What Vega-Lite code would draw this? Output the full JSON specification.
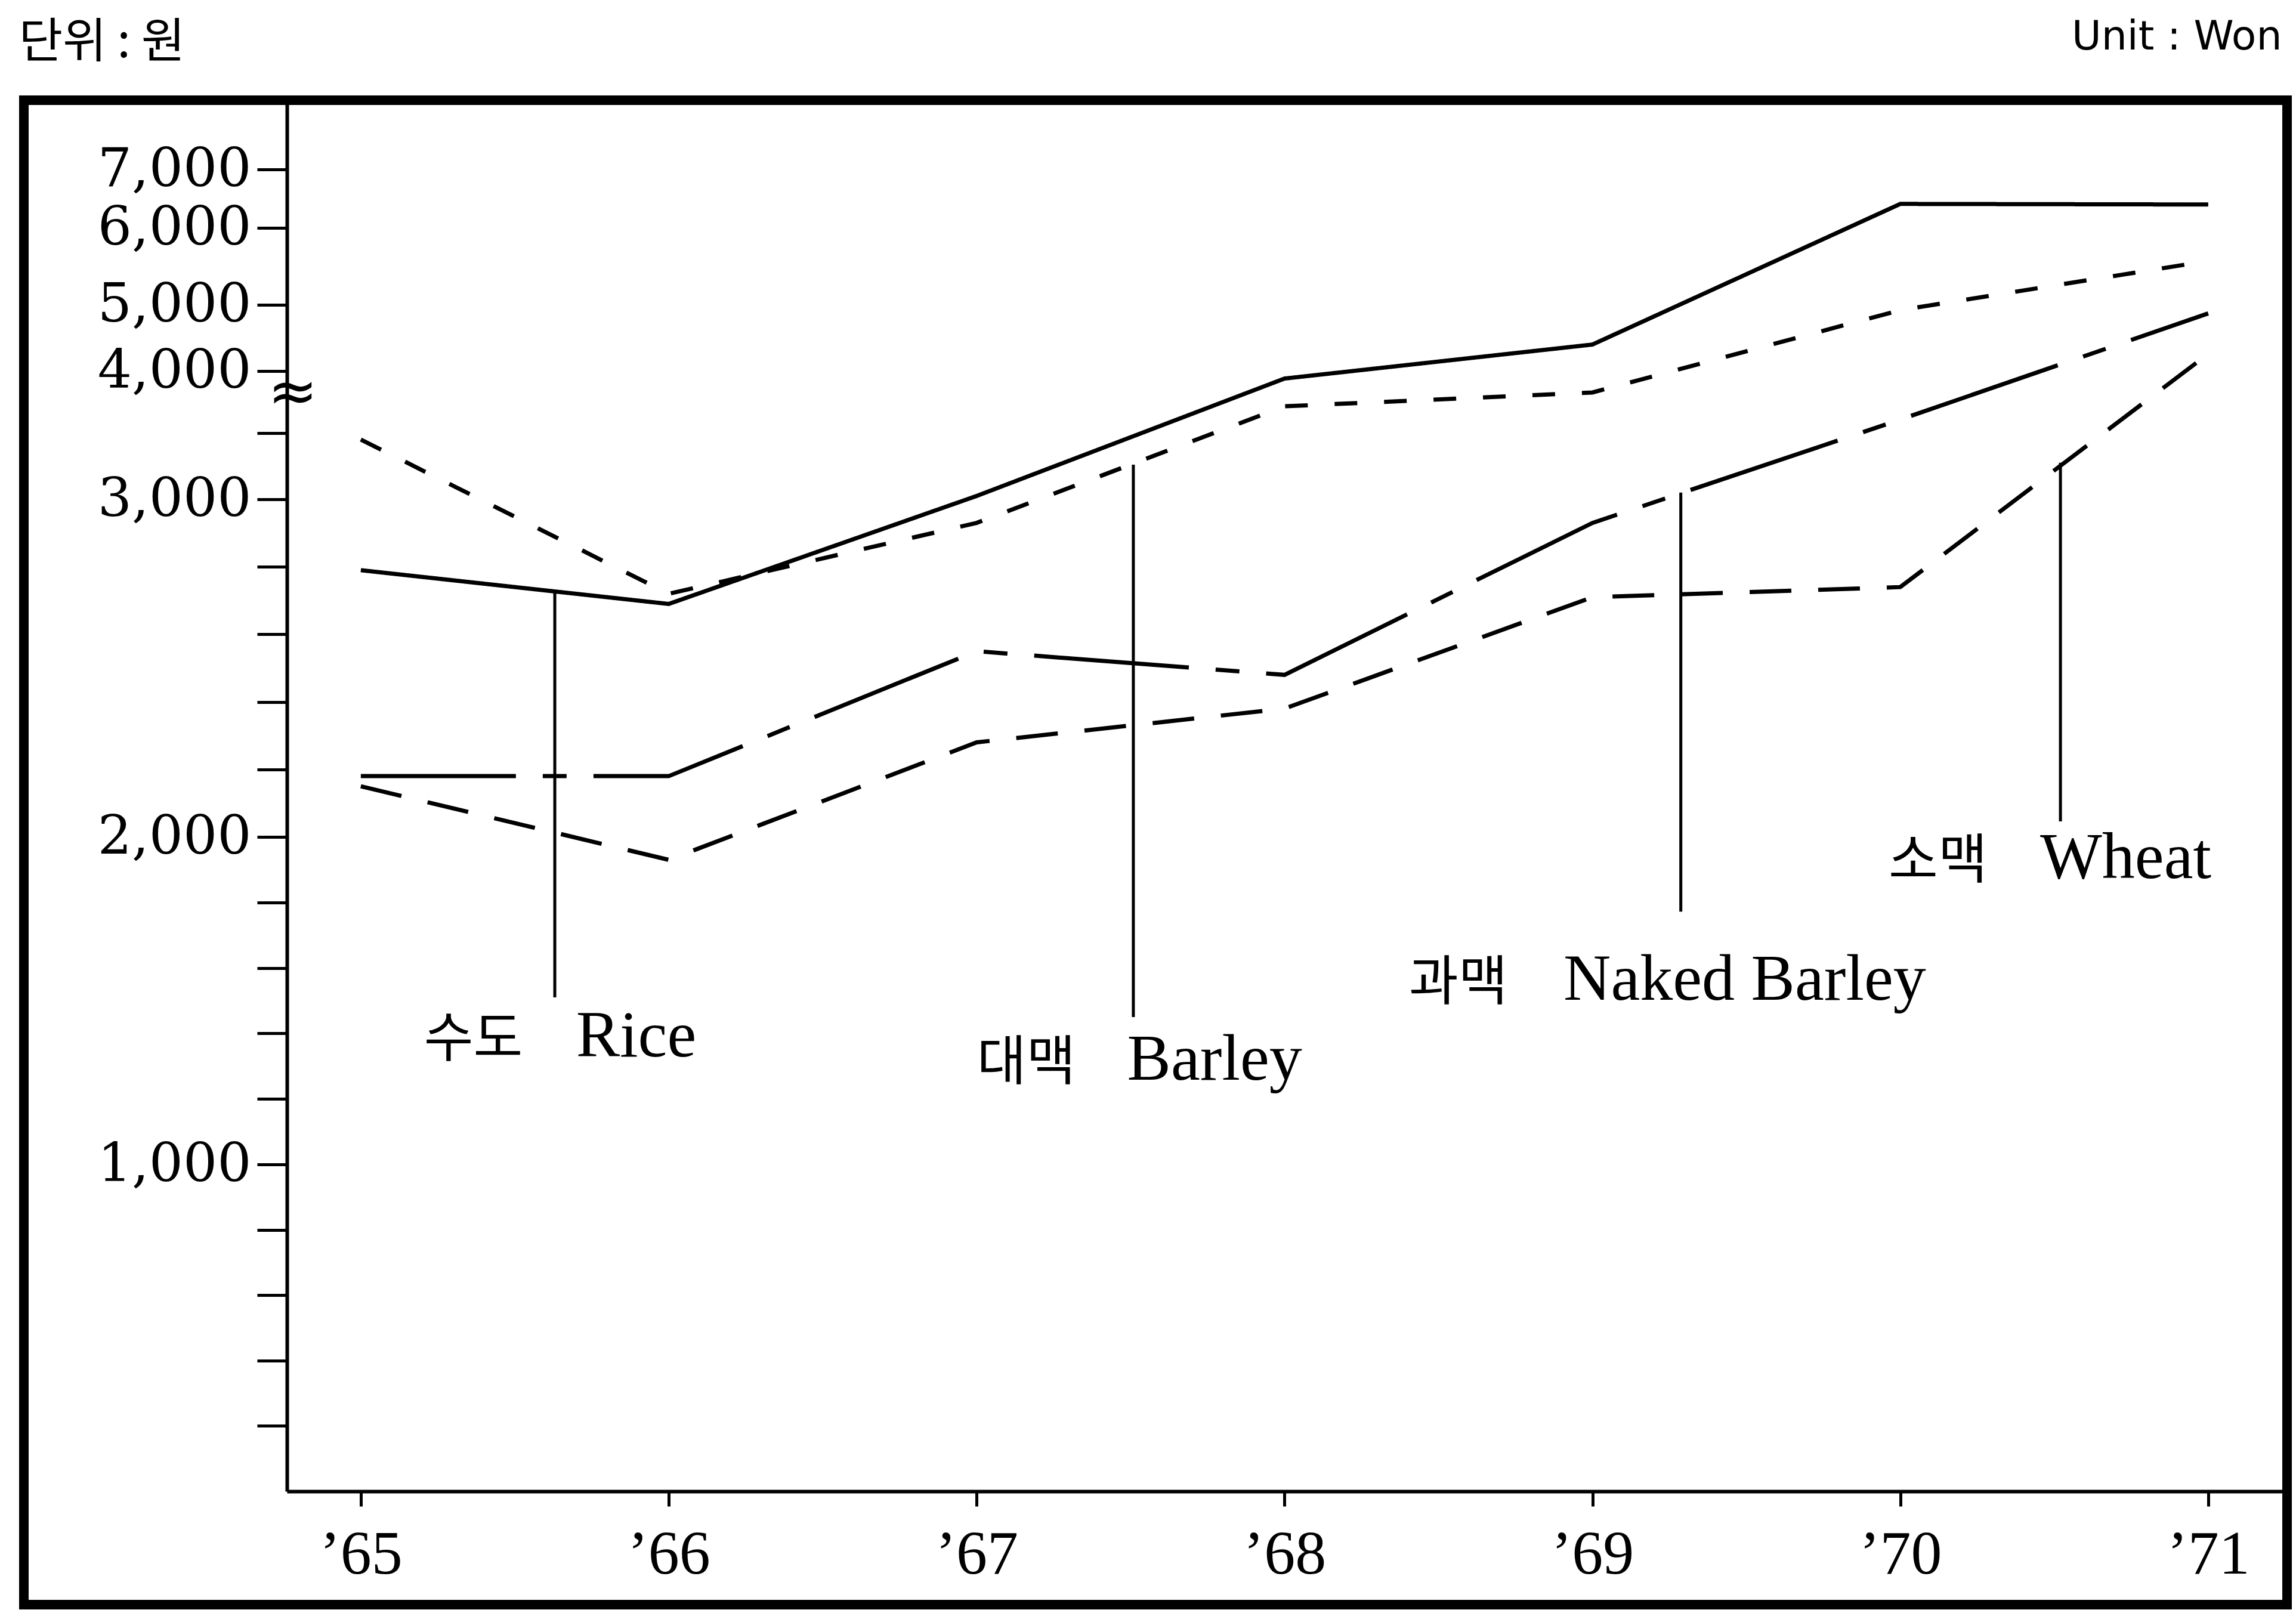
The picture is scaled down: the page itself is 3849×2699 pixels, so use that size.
{
  "$schema": "https://vega.github.io/schema/vega-lite/v6.json",
  "width": 3794,
  "height": 2522,
  "autosize": {"type": "none"},
  "padding": {"left": 40, "top": 168, "right": 15, "bottom": 9},
  "background": "white",
  "config": {"view": {"stroke": "black", "strokeWidth": 16}},
  "datasets": {
    "prices": [
      {"crop": "Rice", "year": 1965, "won": 2790},
      {"crop": "Rice", "year": 1966, "won": 2690},
      {"crop": "Rice", "year": 1967, "won": 3010},
      {"crop": "Rice", "year": 1968, "won": 3910},
      {"crop": "Rice", "year": 1969, "won": 4400},
      {"crop": "Rice", "year": 1970, "won": 6410},
      {"crop": "Rice", "year": 1971, "won": 6400},
      {"crop": "Barley", "year": 1965, "won": 3180},
      {"crop": "Barley", "year": 1966, "won": 2720},
      {"crop": "Barley", "year": 1967, "won": 2930},
      {"crop": "Barley", "year": 1968, "won": 3280},
      {"crop": "Barley", "year": 1969, "won": 3600},
      {"crop": "Barley", "year": 1970, "won": 4920},
      {"crop": "Barley", "year": 1971, "won": 5570},
      {"crop": "Naked Barley", "year": 1965, "won": 2180},
      {"crop": "Naked Barley", "year": 1966, "won": 2180},
      {"crop": "Naked Barley", "year": 1967, "won": 2550},
      {"crop": "Naked Barley", "year": 1968, "won": 2480},
      {"crop": "Naked Barley", "year": 1969, "won": 2930},
      {"crop": "Naked Barley", "year": 1970, "won": 3240},
      {"crop": "Naked Barley", "year": 1971, "won": 4870},
      {"crop": "Wheat", "year": 1965, "won": 2150},
      {"crop": "Wheat", "year": 1966, "won": 1930},
      {"crop": "Wheat", "year": 1967, "won": 2280},
      {"crop": "Wheat", "year": 1968, "won": 2380},
      {"crop": "Wheat", "year": 1969, "won": 2710},
      {"crop": "Wheat", "year": 1970, "won": 2740},
      {"crop": "Wheat", "year": 1971, "won": 4260}
    ],
    "leaders": [
      {"crop": "Rice", "year": 1965.63, "won": 2730, "won2": 1510},
      {"crop": "Barley", "year": 1967.509, "won": 3104, "won2": 1450},
      {"crop": "Naked Barley", "year": 1969.287, "won": 3020, "won2": 1772},
      {"crop": "Wheat", "year": 1970.52, "won": 3110, "won2": 2046}
    ],
    "labels": [
      {"text": "수도", "lang": "ko", "year": 1965.205, "won": 1330},
      {"text": "Rice", "lang": "en", "year": 1965.699, "won": 1330},
      {"text": "대맥", "lang": "ko", "year": 1967.001, "won": 1259},
      {"text": "Barley", "lang": "en", "year": 1967.489, "won": 1259},
      {"text": "과맥", "lang": "ko", "year": 1968.404, "won": 1503},
      {"text": "Naked Barley", "lang": "en", "year": 1968.906, "won": 1503},
      {"text": "소맥", "lang": "ko", "year": 1969.962, "won": 1874},
      {"text": "Wheat", "lang": "en", "year": 1970.454, "won": 1874}
    ],
    "brk": [{"year": 1964.76, "won": 3550, "text": "≈"}]
  },
  "encoding": {
    "x": {
      "field": "year",
      "type": "quantitative",
      "scale": {"domain": [1964.76, 1971.256], "range": [441, 3794], "nice": false, "zero": false},
      "axis": {
        "orient": "bottom",
        "offset": -190,
        "values": [1965, 1966, 1967, 1968, 1969, 1970, 1971],
        "labelExpr": "'’' + substring(toString(datum.value), 2, 4)",
        "grid": false,
        "domainColor": "black",
        "domainWidth": 6,
        "tickColor": "black",
        "tickWidth": 5,
        "tickSize": 25,
        "labelFont": "Liberation Serif",
        "labelFontSize": 104,
        "labelColor": "black",
        "labelPadding": 112,
        "labelBaseline": "alphabetic",
        "labelAlign": "center",
        "labelFlush": false,
        "labelOverlap": false,
        "labelLimit": 0,
        "title": "Unit : Won",
        "titleX": 3785,
        "titleY": -2418,
        "titleAlign": "right",
        "titleAnchor": null,
        "titleBaseline": "alphabetic",
        "titleFont": "DejaVu Sans",
        "titleFontSize": 68,
        "titleFontWeight": "normal",
        "titleColor": "black"
      }
    },
    "y": {
      "field": "won",
      "type": "quantitative",
      "scale": {
        "domain": [0, 1000, 2000, 3000, 3300, 3800, 4000, 5000, 6000, 7000, 8180],
        "range": [2332, 1784, 1235, 669, 502, 482, 454, 343, 214, 116, 0],
        "nice": false,
        "zero": false
      },
      "axis": {
        "orient": "left",
        "offset": -441,
        "values": [200, 400, 600, 800, 1000, 1200, 1400, 1600, 1800, 2000, 2200, 2400, 2600, 2800, 3000, 3200, 4000, 5000, 6000, 7000],
        "labelExpr": "datum.value % 1000 == 0 ? format(datum.value, ',') : ''",
        "grid": false,
        "domainColor": "black",
        "domainWidth": 6,
        "tickColor": "black",
        "tickWidth": 5,
        "tickSize": 50,
        "labelFont": "DejaVu Serif",
        "labelFontSize": 90,
        "labelColor": "black",
        "labelPadding": 10,
        "labelAlign": "right",
        "labelBaseline": "middle",
        "labelFlush": false,
        "labelOverlap": false,
        "labelLimit": 0,
        "title": "단위 : 원",
        "titleAngle": 0,
        "titleX": -450,
        "titleY": -73,
        "titleAlign": "left",
        "titleAnchor": null,
        "titleBaseline": "alphabetic",
        "titleFont": "Noto Sans CJK KR",
        "titleFontSize": 80,
        "titleFontWeight": "normal",
        "titleColor": "black",
        "titleLimit": 0
      }
    }
  },
  "layer": [
    {
      "data": {"name": "prices"},
      "mark": {"type": "line", "color": "black", "strokeWidth": 7, "strokeCap": "butt"},
      "encoding": {
        "strokeDash": {
          "field": "crop",
          "type": "nominal",
          "scale": {
            "domain": ["Rice", "Barley", "Naked Barley", "Wheat"],
            "range": [[1, 0], [38, 45], [260, 45, 40, 45], [70, 45]]
          },
          "legend": null
        }
      }
    },
    {
      "data": {"name": "leaders"},
      "mark": {"type": "rule", "color": "black", "strokeWidth": 5},
      "encoding": {"y2": {"field": "won2"}}
    },
    {
      "data": {"name": "labels"},
      "transform": [{"filter": "datum.lang == 'en'"}],
      "mark": {"type": "text", "font": "Liberation Serif", "fontSize": 110, "align": "left", "baseline": "alphabetic", "color": "black"},
      "encoding": {"text": {"field": "text"}}
    },
    {
      "data": {"name": "labels"},
      "transform": [{"filter": "datum.lang == 'ko'"}],
      "mark": {"type": "text", "font": "Noto Sans CJK KR", "fontSize": 90, "align": "left", "baseline": "alphabetic", "color": "black"},
      "encoding": {"text": {"field": "text"}}
    },
    {
      "data": {"name": "brk"},
      "mark": {"type": "text", "font": "DejaVu Sans", "fontSize": 100, "align": "center", "baseline": "middle", "dx": 10, "color": "black"},
      "encoding": {"text": {"field": "text"}}
    }
  ]
}
